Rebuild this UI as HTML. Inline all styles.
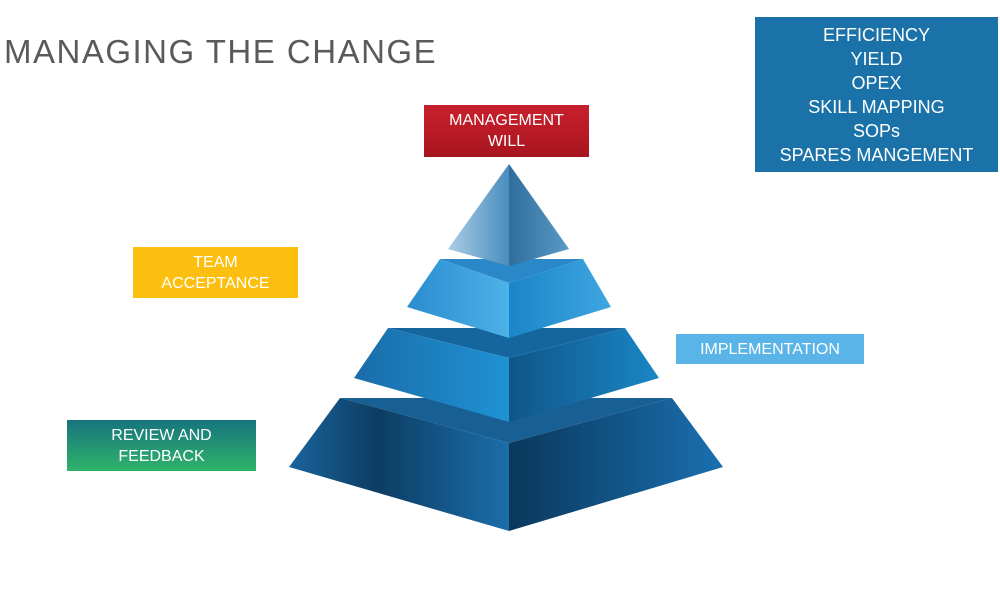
<!DOCTYPE html>
<html><head><style>
body{margin:0;width:1000px;height:600px;background:#fff;position:relative;overflow:hidden;font-family:"Liberation Sans",sans-serif}
.b{position:absolute;color:#fff;display:flex;align-items:center;justify-content:center;text-align:center;font-size:16px;line-height:21px}
</style></head><body>
<div style="position:absolute;left:4px;top:33px;font-size:33px;color:#5a5a5a;letter-spacing:1.5px;font-weight:300">MANAGING THE CHANGE</div>
<div class="b" style="left:755px;top:17px;width:243px;height:155px;background:#1b72a8;font-size:18px;line-height:24px">EFFICIENCY<br>YIELD<br>OPEX<br>SKILL MAPPING<br>SOPs<br>SPARES MANGEMENT</div>
<div class="b" style="left:424px;top:105px;width:165px;height:52px;background:linear-gradient(#c9202d,#a8151f)">MANAGEMENT<br>WILL</div>
<div class="b" style="left:133px;top:247px;width:165px;height:51px;background:#fcbf10">TEAM<br>ACCEPTANCE</div>
<div class="b" style="left:676px;top:334px;width:188px;height:30px;background:#5ab4e8">IMPLEMENTATION</div>
<div class="b" style="left:67px;top:420px;width:189px;height:51px;background:linear-gradient(#17747e,#2fb36a)">REVIEW AND<br>FEEDBACK</div>
<svg width="1000" height="600" style="position:absolute;left:0;top:0">
<defs>
<linearGradient id="t1l" x1="0" x2="1"><stop offset="0" stop-color="#a9cee6"/><stop offset="1" stop-color="#4a8cbc"/></linearGradient>
<linearGradient id="t1r" x1="0" x2="1"><stop offset="0" stop-color="#2f6e9c"/><stop offset="1" stop-color="#5b9ac6"/></linearGradient>
<linearGradient id="t2l" x1="0" x2="1"><stop offset="0" stop-color="#2b8ccf"/><stop offset="1" stop-color="#4cb2e8"/></linearGradient>
<linearGradient id="t2r" x1="0" x2="1"><stop offset="0" stop-color="#1a85c8"/><stop offset="1" stop-color="#3fa6e0"/></linearGradient>
<linearGradient id="t3l" x1="0" x2="1"><stop offset="0" stop-color="#1a6ca8"/><stop offset="1" stop-color="#1f92d4"/></linearGradient>
<linearGradient id="t3r" x1="0" x2="1"><stop offset="0" stop-color="#0f5688"/><stop offset="1" stop-color="#1a86c6"/></linearGradient>
<linearGradient id="t4l" x1="0" x2="1"><stop offset="0" stop-color="#1a649c"/><stop offset="0.4" stop-color="#0c3d62"/><stop offset="1" stop-color="#1b6eaa"/></linearGradient>
<linearGradient id="t4r" x1="0" x2="1"><stop offset="0" stop-color="#0a385c"/><stop offset="1" stop-color="#1a70b0"/></linearGradient>
</defs>
<polygon points="340,398 672,398 509,443" fill="#185f94"/>
<polygon points="340,398 509,443 509,531 289,467" fill="url(#t4l)"/>
<polygon points="509,443 672,398 723,467 509,531" fill="url(#t4r)"/>
<polygon points="388,328 625,328 509,358" fill="#15659e"/>
<polygon points="388,328 509,358 509,422 354,378" fill="url(#t3l)"/>
<polygon points="509,358 625,328 659,378 509,422" fill="url(#t3r)"/>
<polygon points="440,259 583,259 509,283" fill="#2a88c8"/>
<polygon points="440,259 509,283 509,338 407,307" fill="url(#t2l)"/>
<polygon points="509,283 583,259 611,307 509,338" fill="url(#t2r)"/>
<polygon points="509,164 448,249 509,266" fill="url(#t1l)"/>
<polygon points="509,164 569,249 509,266" fill="url(#t1r)"/>
</svg>
</body></html>
